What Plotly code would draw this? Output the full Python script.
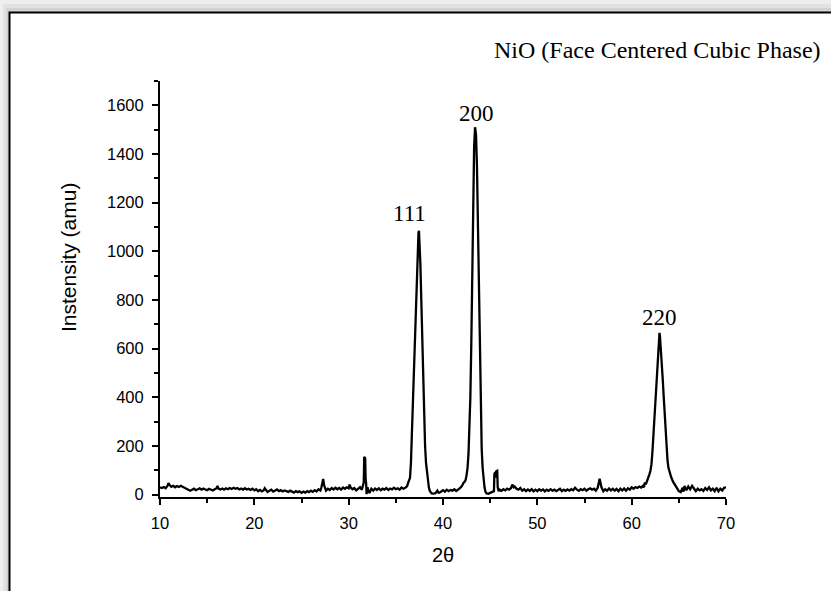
import plotly.graph_objects as go

# ---------------- data ----------------
bg_a_x = [10.0, 10.2, 10.4, 10.6, 10.8, 10.9, 11.0, 11.2, 11.4, 11.6,
          11.8, 12.0, 12.2, 12.4, 12.6, 12.8, 13.0, 13.2, 13.4, 13.6,
          13.8, 14.0, 14.2, 14.4, 14.6, 14.8, 15.0, 15.2, 15.4, 15.6,
          15.8, 16.0, 16.1, 16.2, 16.4, 16.6, 16.8, 17.0, 17.2, 17.4,
          17.6, 17.8, 18.0, 18.2, 18.4, 18.6, 18.8, 19.0, 19.2, 19.4,
          19.6, 19.8, 20.0, 20.2, 20.4, 20.6, 20.8, 21.0, 21.1, 21.2,
          21.4, 21.6, 21.8, 22.0, 22.2, 22.4, 22.6, 22.8, 23.0, 23.2,
          23.4, 23.6, 23.8, 24.0, 24.2, 24.4, 24.6, 24.8, 25.0, 25.2,
          25.4, 25.6, 25.8, 26.0, 26.2, 26.4, 26.6, 26.8, 27.0, 27.1,
          27.2, 27.3, 27.4, 27.6, 27.8, 28.0, 28.2, 28.4, 28.6, 28.8,
          29.0, 29.2, 29.4, 29.6, 29.8, 30.0, 30.1, 30.2, 30.4, 30.6,
          30.8, 31.0, 31.2, 31.4, 31.5, 31.6, 31.65, 31.75, 31.8, 31.85,
          31.9, 32.0, 32.1, 32.2, 32.4, 32.6, 32.8, 33.0, 33.2, 33.4,
          33.6, 33.8, 34.0, 34.2, 34.4, 34.6, 34.8, 35.0, 35.2, 35.4,
          35.6, 35.8, 36.0, 36.1, 36.2]
bg_a_y = [30, 27, 31, 26, 36, 47, 40, 32, 36, 30,
          35, 31, 36, 32, 26, 23, 20, 16, 20, 24,
          18, 22, 26, 20, 25, 21, 18, 24, 20, 17,
          22, 26, 36, 24, 21, 25, 20, 26, 22, 27,
          23, 28, 24, 27, 21, 25, 20, 26, 21, 24,
          19, 24, 17, 22, 14, 19, 13, 18, 26, 20,
          11, 16, 20, 12, 17, 21, 14, 18, 13, 17,
          14, 11, 16, 13, 8, 14, 10, 13, 7, 12,
          8, 14, 10, 16, 11, 18, 13, 22, 17, 28,
          45, 64, 38, 16, 24, 19, 27, 21, 28, 22,
          27, 20, 29, 24, 30, 26, 41, 30, 22, 27,
          17, 24, 30, 20, 35, 50, 155, 150, 60, 48,
          2, 30, 15, 6, 24, 16, 25, 19, 26, 18,
          24, 20, 27, 19, 25, 21, 28, 22, 26, 20,
          29, 24, 28, 32, 35]

peak_111_x = [36.3, 36.4, 36.5, 36.6, 36.7, 36.8, 36.9, 37.0, 37.1, 37.2,
              37.3, 37.4, 37.45, 37.5, 37.6, 37.7, 37.8, 37.9, 38.0, 38.1,
              38.2, 38.3, 38.4, 38.5, 38.6, 38.7, 38.8]
peak_111_y = [48, 58, 68, 130, 250, 350, 460, 590, 730, 880,
              1000, 1075, 1084, 1050, 950, 800, 640, 470, 320, 200,
              130, 85, 55, 30, 15, 8, 5]

bg_b_x = [39.0, 39.2, 39.4, 39.5, 39.6, 39.8, 40.0, 40.2, 40.4, 40.6,
          40.8, 41.0, 41.2, 41.4, 41.6, 41.8, 42.0, 42.1]
bg_b_y = [4, 6, 16, 8, 7, 12, 18, 12, 20, 14,
          19, 16, 22, 15, 20, 26, 35, 45]

peak_200_x = [42.2, 42.3, 42.4, 42.5, 42.6, 42.7, 42.8, 42.9, 43.0, 43.1,
              43.2, 43.3, 43.4, 43.5, 43.6, 43.7, 43.8, 43.9, 44.0, 44.1,
              44.2, 44.3, 44.4, 44.5, 44.6]
peak_200_y = [50, 53, 60, 80, 110, 165, 260, 400, 620, 930,
              1240, 1430, 1510, 1480, 1350, 1100, 770, 500, 310, 190,
              110, 60, 30, 12, 5]

bg_c_x = [44.8, 45.0, 45.2, 45.4, 45.45, 45.55, 45.6, 45.65, 45.75, 45.8,
          45.9, 46.0, 46.2, 46.4, 46.6, 46.8, 47.0, 47.2, 47.35, 47.5,
          47.6, 47.8, 48.0, 48.2, 48.4, 48.6, 48.8, 49.0, 49.2, 49.4,
          49.6, 49.8, 50.0, 50.2, 50.4, 50.6, 50.8, 51.0, 51.2, 51.4,
          51.6, 51.8, 52.0, 52.2, 52.4, 52.6, 52.8, 53.0, 53.2, 53.4,
          53.6, 53.8, 54.0, 54.2, 54.4, 54.6, 54.8, 55.0, 55.2, 55.4,
          55.6, 55.8, 56.0, 56.2, 56.4, 56.5, 56.6, 56.7, 56.8, 57.0,
          57.2, 57.4, 57.6, 57.8, 58.0, 58.2, 58.4, 58.6, 58.8, 59.0,
          59.2, 59.4, 59.6, 59.8, 60.0, 60.2, 60.4, 60.6, 60.8, 61.0,
          61.2, 61.3, 61.4, 61.5]
bg_c_y = [3, 6, 10, 14, 85, 92, 70, 96, 98, 30,
          14, 20, 15, 22, 17, 24, 20, 26, 41, 30,
          33, 24, 20, 27, 16, 22, 14, 21, 15, 22,
          13, 20, 14, 22, 16, 21, 13, 20, 15, 22,
          16, 20, 14, 19, 24, 14, 20, 15, 21, 16,
          22, 18, 28, 20, 15, 22, 18, 24, 16, 22,
          26, 20, 24, 16, 28, 45, 65, 48, 30, 14,
          22, 16, 25, 17, 24, 16, 23, 14, 24, 17,
          25, 16, 26, 20, 30, 24, 31, 27, 33, 29,
          36, 30, 50, 42]

peak_220_x = [61.6, 61.7, 61.8, 61.9, 62.0, 62.1, 62.2, 62.3, 62.4, 62.5,
              62.6, 62.7, 62.8, 62.9, 62.95, 63.0, 63.1, 63.2, 63.3, 63.4,
              63.5, 63.6, 63.7, 63.8, 63.9, 64.0, 64.1, 64.2, 64.4, 64.6,
              64.8, 65.0]
peak_220_y = [52, 58, 72, 85, 100, 125, 175, 245, 320, 400,
              470, 540, 600, 650, 665, 650, 600, 540, 470, 400,
              320, 250, 185, 140, 110, 92, 80, 70, 52, 38,
              25, 14]

bg_d_x = [65.2, 65.4, 65.5, 65.6, 65.8, 66.0, 66.2, 66.4, 66.6, 66.8,
          67.0, 67.2, 67.4, 67.6, 67.8, 68.0, 68.2, 68.4, 68.6, 68.8,
          69.0, 69.2, 69.4, 69.6, 69.8, 70.0]
bg_d_y = [10, 28, 12, 35, 18, 33, 22, 36, 25, 14,
          24, 17, 22, 15, 27, 19, 30, 17, 24, 14,
          28, 13, 24, 17, 28, 30]

peak_labels = ["111", "200", "220"]
peak_label_x = [36.5, 43.5, 62.9]
peak_label_y = [1157, 1567, 726]

x_ticks = [10, 20, 30, 40, 50, 60, 70]
y_ticks = [0, 200, 400, 600, 800, 1000, 1200, 1400, 1600]

title_text = "NiO (Face Centered Cubic Phase)"
x_title = "2θ"
y_title = "Instensity (amu)"

two_theta = bg_a_x + peak_111_x + bg_b_x + peak_200_x + bg_c_x + peak_220_x + bg_d_x
intensity = bg_a_y + peak_111_y + bg_b_y + peak_200_y + bg_c_y + peak_220_y + bg_d_y
assert len(two_theta) == len(intensity)

# ---------------- geometry helpers (pixels -> paper) ----------------
W, H = 831, 591
L, R, T, B = 160, 105, 81, 94
PW, PH = W - L - R, H - T - B


def px(x):
    return (x - L) / PW


def py(y):
    return (H - B - y) / PH


SANS = "Liberation Sans, Arial, sans-serif"
SERIF = "Liberation Serif, Times New Roman, serif"

fig = go.Figure()
fig.add_trace(go.Scatter(x=two_theta, y=intensity, mode="lines",
                         line=dict(color="black", width=2.3), showlegend=False,
                         hoverinfo="skip"))

axis_common = dict(
    showgrid=False, zeroline=False, showline=True, linewidth=2, linecolor="black",
    ticks="outside", ticklen=6, tickwidth=2, tickcolor="black",
    tickfont=dict(family=SANS, size=16.5, color="black"),
)

fig.update_xaxes(range=[10, 70], tickvals=x_ticks, ticklabelstandoff=4,
                 minor=dict(dtick=5, tick0=10, ticks="outside", ticklen=4,
                            tickwidth=2, tickcolor="black", showgrid=False),
                 **axis_common)
fig.update_yaxes(range=[-10, 1700], tickvals=y_ticks, ticklabelstandoff=5,
                 minor=dict(dtick=100, tick0=0, ticks="outside", ticklen=4,
                            tickwidth=2, tickcolor="black", showgrid=False),
                 **axis_common)

shapes = [
    dict(type="rect", xref="paper", yref="paper", x0=px(3), y0=py(700), x1=px(900), y1=py(4),
         fillcolor="#e2e2e2", line=dict(width=0), layer="below"),
    dict(type="rect", xref="paper", yref="paper", x0=px(6), y0=py(700), x1=px(900), y1=py(8),
         fillcolor="#d2d2d2", line=dict(width=0), layer="below"),
    dict(type="rect", xref="paper", yref="paper", x0=px(9.5), y0=py(700), x1=px(900), y1=py(12.5),
         fillcolor="white", line=dict(width=2, color="black"), layer="below"),
]

annotations = [
    dict(text=title_text, xref="paper", yref="paper", x=px(823), y=py(50),
         xanchor="right", yanchor="middle", showarrow=False,
         font=dict(family=SERIF, size=24, color="black")),
    dict(text=y_title, xref="paper", yref="paper", x=px(68), y=py(258),
         xanchor="center", yanchor="middle", textangle=-90, showarrow=False,
         font=dict(family=SANS, size=21, color="black")),
    dict(text=x_title, xref="paper", yref="paper", x=px(443), y=py(555),
         xanchor="center", yanchor="middle", showarrow=False,
         font=dict(family=SANS, size=20, color="black")),
]
for lab, lx, ly in zip(peak_labels, peak_label_x, peak_label_y):
    annotations.append(dict(text=lab, x=lx, y=ly, xref="x", yref="y",
                            xanchor="center", yanchor="middle", showarrow=False,
                            font=dict(family=SERIF, size=23, color="black")))

fig.update_layout(
    width=W, height=H,
    margin=dict(l=L, r=R, t=T, b=B, pad=0),
    paper_bgcolor="#eeeeee", plot_bgcolor="white",
    shapes=shapes, annotations=annotations,
    showlegend=False,
)

fig.write_html("out.html", config={"displayModeBar": False},
               post_script="document.body.style.margin='0';document.body.style.padding='0';")
